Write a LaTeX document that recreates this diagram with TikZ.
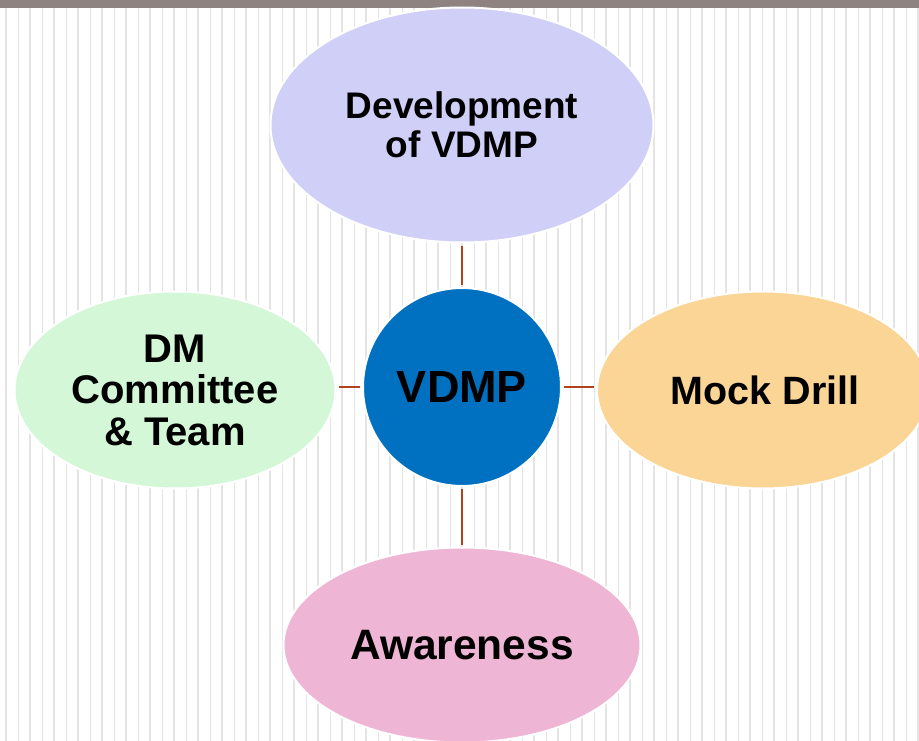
\documentclass[tikz,border=0pt]{standalone}
\usepackage{fontspec}
\setmainfont{Liberation Sans}
\usetikzlibrary{shapes.geometric}
\definecolor{barc}{HTML}{8F8382}
\definecolor{gridc}{HTML}{E4E4E4}
\definecolor{topc}{HTML}{CFCFF7}
\definecolor{leftc}{HTML}{D4F7D7}
\definecolor{rightc}{HTML}{FAD595}
\definecolor{botc}{HTML}{EEB6D4}
\definecolor{hubc}{HTML}{0070C0}
\definecolor{linkc}{HTML}{B0431E}
\tikzset{
  bubble/.style={ellipse, draw=white, line width=2pt, inner sep=0pt, align=center, font=\bfseries},
  hub/.style={circle, draw=white, line width=2pt, fill=hubc, inner sep=0pt, minimum size=198pt, font=\bfseries\fontsize{45}{50}\selectfont},
  link/.style={draw=linkc, line width=2pt}
}
\begin{document}
\begin{tikzpicture}[x=1pt,y=-1pt]
\useasboundingbox (0,0) rectangle (919,741);
\clip (0,0) rectangle (919,741);
\fill[white] (0,0) rectangle (919,741);
\foreach \i in {0,...,38} {
  \draw[gridc, line width=2pt] ({6+24*\i},8) -- ({6+24*\i},741);
  \draw[gridc, line width=1pt] ({18+24*\i},8) -- ({18+24*\i},741);
}
\fill[barc] (0,0) rectangle (919,8);
% nodes
\node[bubble, fill=topc, minimum width=383pt, minimum height=235pt, font=\bfseries\fontsize{37}{39}\selectfont] (dev) at (462,125) {Development\\of VDMP};
\node[bubble, fill=leftc, minimum width=321pt, minimum height=197pt, font=\bfseries\fontsize{40}{41.5}\selectfont] (dm) at (175,390) {DM\\Committee\\\& Team};
\node[bubble, fill=rightc, minimum width=332pt, minimum height=197pt] (mock) at (763,390) {};
\node[font=\bfseries\fontsize{39.5}{41}\selectfont] at (765,390) {Mock Drill};
\node[bubble, fill=botc, minimum width=357pt, minimum height=195pt, font=\bfseries\fontsize{42.5}{44}\selectfont] (aw) at (462,645) {Awareness};
\node[hub] (hub) at (462,387) {VDMP};
% connectors
\draw[link] ([yshift=-2pt]dev.south) -- ([yshift=2pt]hub.north);
\draw[link] ([yshift=2pt]aw.north) -- ([yshift=-2pt]hub.south);
\draw[link] ([xshift=2pt]dm.east |- hub.west) -- ([xshift=-2pt]hub.west);
\draw[link] ([xshift=-2pt]mock.west |- hub.east) -- ([xshift=2pt]hub.east);
\end{tikzpicture}
\end{document}
